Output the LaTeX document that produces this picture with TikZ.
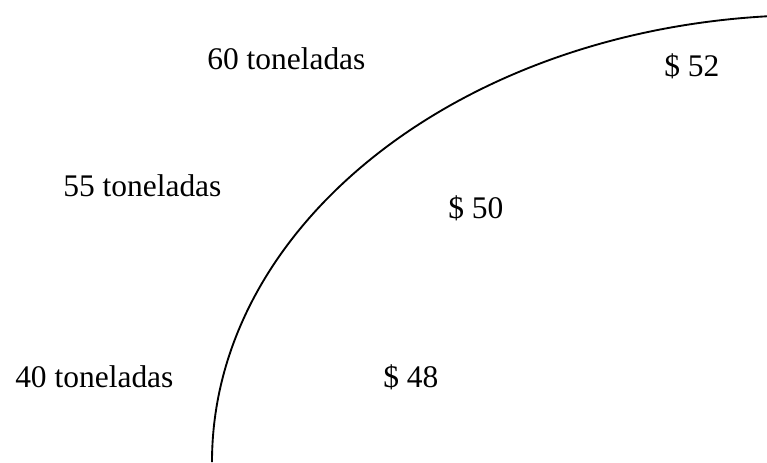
\documentclass[tikz,border=0pt]{standalone}
\usepackage{fontspec}
\setmainfont{Liberation Serif}

\begin{document}
\begin{tikzpicture}[x=.75pt,y=.75pt,
  lbl/.style={anchor=base west,inner sep=0pt,
    font=\fontsize{23.6}{28}\selectfont}]
 \useasboundingbox (0,0) rectangle (767,462);
 % demand curve
 \draw[line width=1.4pt] (212,0) arc[start angle=180,end angle=94.3,
   x radius=600,y radius=447];
 % tonnage labels
 \foreach \nm/\xp/\yp/\txt in {
   t60/207/393/60 toneladas, t55/63/266/55 toneladas,
   t40/15/75/40 toneladas
 } {
   \node[lbl] (\nm) at (\xp,\yp) {\txt};
 }
 % price labels
 \foreach \nm/\xp/\yp/\txt in {
   p52/664/386/\$ 52, p50/448/244/\$ 50,
   p48/383/75/\$ 48
 } {
   \node[lbl] (\nm) at (\xp,\yp) {\txt};
 }
\end{tikzpicture}
\end{document}
